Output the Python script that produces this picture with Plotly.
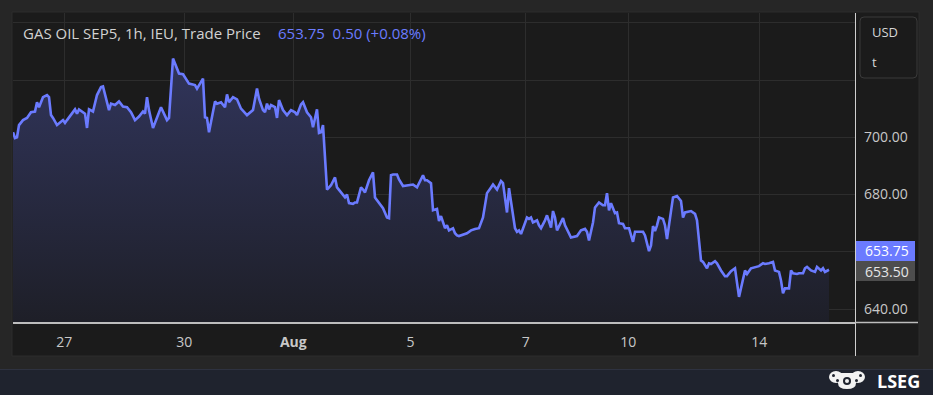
import plotly.graph_objects as go

# ---------------- data ----------------
bar_index = [
    0, 1, 2, 3, 5, 7, 9, 11, 12, 13,
    15, 17, 18, 19, 20, 22, 25, 26, 27, 31,
    32, 33, 36, 37, 38, 40, 42, 44, 45, 47,
    48, 49, 51, 53, 55, 57, 59, 61, 63, 65,
    66, 67, 68, 70, 72, 74, 77, 78, 80, 81,
    83, 85, 88, 91, 92, 95, 96, 97, 98, 101,
    102, 104, 106, 107, 108, 110, 112, 114, 117, 120,
    122, 123, 125, 126, 127, 128, 129, 131, 132, 133,
    135, 137, 139, 141, 142, 144, 145, 147, 149, 150,
    152, 153, 154, 155, 157, 159, 161, 162, 164, 166,
    167, 168, 170, 171, 172, 174, 175, 176, 178, 180,
    181, 183, 185, 187, 188, 189, 190, 192, 193, 195,
    197, 199, 200, 202, 205, 206, 207, 209, 210, 212,
    213, 214, 215, 216, 217, 218, 220, 221, 222, 223,
    227, 229, 231, 233, 235, 237, 239, 240, 242, 244,
    245, 247, 248, 249, 251, 252, 253, 254, 257, 258,
    259, 260, 262, 263, 264, 266, 267, 269, 270, 271,
    272, 275, 276, 279, 281, 282, 284, 286, 287, 288,
    290, 291, 293, 295, 296, 297, 298, 299, 301, 302,
    303, 305, 306, 308, 310, 311, 315, 316, 318, 319,
    320, 321, 322, 323, 325, 326, 327, 328, 330, 332,
    334, 335, 336, 339, 341, 342, 344, 345, 347, 348,
    349, 351, 352, 354, 356, 357, 359, 361, 363, 366,
    367, 369, 372, 373, 375, 376, 378, 380, 381, 383,
    384, 385, 386, 388, 389, 390, 392, 393, 395, 396,
    397, 399, 401, 402, 404, 405, 406, 408,
]

price = [
    701.75, 699.75, 700.00, 704.25, 706.00, 706.75, 708.75, 709.00, 712.25, 710.50,
    714.00, 714.75, 714.00, 707.75, 706.75, 704.25, 706.00, 705.00, 706.00, 709.75,
    708.25, 709.75, 708.25, 703.25, 709.75, 709.00, 714.75, 717.50, 717.75, 711.75,
    709.50, 711.75, 711.25, 712.50, 710.75, 710.50, 708.75, 706.00, 707.25, 709.00,
    708.25, 714.00, 709.50, 703.25, 707.00, 710.50, 706.00, 706.75, 727.50, 725.75,
    722.25, 722.00, 718.75, 718.25, 717.00, 720.50, 707.00, 706.75, 701.75, 712.50,
    711.75, 712.25, 710.50, 715.00, 712.25, 714.00, 713.25, 710.00, 707.75, 709.50,
    717.00, 713.50, 709.50, 708.75, 711.75, 709.75, 711.25, 710.50, 706.75, 713.00,
    709.50, 707.75, 709.50, 708.75, 707.75, 711.50, 712.25, 708.75, 707.00, 703.50,
    709.75, 701.50, 701.75, 704.25, 681.75, 683.25, 686.00, 682.50, 680.75, 679.00,
    680.00, 677.00, 676.75, 677.25, 677.25, 682.50, 681.75, 680.75, 685.00, 687.75,
    679.00, 677.25, 675.25, 672.00, 671.75, 686.75, 687.00, 687.00, 685.25, 683.00,
    683.25, 683.50, 683.50, 682.50, 686.75, 685.00, 685.00, 684.00, 674.50, 675.00,
    670.75, 672.50, 670.00, 668.25, 669.25, 667.50, 668.25, 666.50, 665.75, 665.50,
    666.50, 667.50, 668.00, 668.25, 672.00, 680.50, 682.50, 683.50, 681.75, 684.75,
    684.00, 673.75, 682.25, 677.00, 668.25, 667.00, 667.50, 666.25, 672.00, 671.50,
    672.00, 670.25, 671.00, 669.25, 668.25, 671.00, 672.75, 668.50, 674.25, 672.00,
    667.50, 671.75, 669.25, 665.00, 665.50, 665.50, 667.50, 668.00, 667.00, 664.00,
    670.25, 675.50, 677.25, 676.25, 676.25, 680.50, 674.50, 677.00, 673.50, 673.75,
    670.00, 669.75, 668.25, 668.25, 663.50, 667.00, 667.00, 665.75, 660.25, 662.25,
    669.00, 667.25, 669.25, 672.00, 671.50, 669.25, 664.50, 670.00, 679.00, 679.50,
    677.75, 672.00, 673.75, 674.25, 673.25, 671.00, 657.00, 656.50, 654.25, 656.00,
    655.75, 656.75, 656.00, 653.50, 651.50, 651.50, 653.25, 654.25, 644.25, 653.50,
    652.25, 654.25, 654.75, 655.00, 656.00, 655.75, 656.00, 656.50, 653.50, 653.00,
    650.00, 645.50, 647.25, 647.25, 653.50, 652.50, 652.25, 652.50, 652.50, 654.25,
    654.75, 653.50, 653.00, 654.75, 653.50, 654.25, 653.00, 653.75,
]
assert len(bar_index) == len(price)

x_tick_pos = [25.65, 85.65, 140.15, 198.75, 256.35, 307.65, 373.15]
x_tick_labels = ["27", "30", "<b>Aug</b>", "5", "7", "10", "14"]

y_tick_vals = [640, 660, 680, 700, 720, 740]
y_tick_labels = ["640.00", "", "680.00", "700.00", "", ""]

title_text = "GAS OIL SEP5, 1h, IEU, Trade Price"
last_price = "653.75"
change_text = "0.50 (+0.08%)"
bid_tag = "653.75"
ask_tag = "653.50"

# ---------------- figure ----------------
W, H = 933, 395
LINE = "#6b7bff"
FONT = "Open Sans"


def px(x):
    return x / W


def py(y):
    return 1 - y / H


fig = go.Figure()
fig.add_trace(go.Scatter(
    x=bar_index, y=price, mode="lines",
    line=dict(color=LINE, width=2.6),
    fill="tozeroy",
    fillgradient=dict(type="vertical", start=636, stop=728,
                      colorscale=[[0, "#1e1f28"], [1, "#31355c"]]),
    hoverinfo="skip", showlegend=False,
))


def circle(x0, y0, x1, y1, color):
    return dict(type="circle", xref="paper", yref="paper", x0=px(x0), x1=px(x1), y0=py(y1), y1=py(y0),
                fillcolor=color, line=dict(width=0))


shapes = [
    # chart panel
    dict(type="rect", xref="paper", yref="paper", x0=px(12), x1=px(919), y0=py(356), y1=py(12),
         fillcolor="#1b1b1b", line=dict(color="#2c2c2c", width=1), layer="below"),
    # bottom band
    dict(type="rect", xref="paper", yref="paper", x0=0, x1=1, y0=0, y1=py(369),
         fillcolor="#1f232e", line=dict(width=0), layer="below"),
    dict(type="line", xref="paper", yref="paper", x0=0, x1=1, y0=py(369.5), y1=py(369.5),
         line=dict(color="#2e3240", width=1)),
    # right divider
    dict(type="line", xref="paper", yref="paper", x0=px(855.5), x1=px(855.5), y0=py(356), y1=py(13),
         line=dict(color="#cfcfcf", width=1)),
    # x axis line extension
    dict(type="line", xref="paper", yref="paper", x0=px(855), x1=px(918), y0=py(322.5), y1=py(322.5),
         line=dict(color="#bdbdbd", width=1.5)),
    # USD box
    dict(type="path", xref="paper", yref="paper",
         path=(f"M {px(864)},{py(17)} L {px(913)},{py(17)} Q {px(917)},{py(17)} {px(917)},{py(21)} "
               f"L {px(917)},{py(74)} Q {px(917)},{py(78)} {px(913)},{py(78)} "
               f"L {px(864)},{py(78)} Q {px(860)},{py(78)} {px(860)},{py(74)} "
               f"L {px(860)},{py(21)} Q {px(860)},{py(17)} {px(864)},{py(17)} Z"),
         fillcolor="#1b1b1b", line=dict(color="#3a3a3a", width=1)),
    # price tags
    dict(type="rect", xref="paper", yref="paper", x0=px(856), x1=px(915), y0=py(261), y1=py(241),
         fillcolor="#6b7bff", line=dict(width=0)),
    dict(type="rect", xref="paper", yref="paper", x0=px(856), x1=px(915), y0=py(281), y1=py(261),
         fillcolor="#4d4d4d", line=dict(width=0)),
    # LSEG crest (approximation)
    circle(829, 371, 843, 383, "#f2f2f2"),
    circle(851, 371, 865, 383, "#f2f2f2"),
    dict(type="path", xref="paper", yref="paper",
         path=(f"M {px(838)},{py(373)} L {px(856)},{py(373)} L {px(856)},{py(383)} "
               f"Q {px(856)},{py(389)} {px(847)},{py(389)} Q {px(838)},{py(389)} {px(838)},{py(383)} Z"),
         fillcolor="#f2f2f2", line=dict(width=0)),
    circle(843, 377, 851, 385, "#1f232e"),
    circle(845, 379, 849, 383, "#f2f2f2"),
    circle(832, 374, 835, 377, "#1f232e"),
    circle(859, 374, 862, 377, "#1f232e"),
    circle(836, 379, 839, 382, "#1f232e"),
    circle(855, 379, 858, 382, "#1f232e"),
]

annotations = [
    dict(text=title_text, xref="paper", yref="paper", x=px(21), y=py(33), xanchor="left", yanchor="middle",
         showarrow=False, font=dict(family=FONT, size=15, color="#d2d2d2")),
    dict(text=last_price + "&nbsp;&nbsp;" + change_text, xref="paper", yref="paper", x=px(276), y=py(33),
         xanchor="left", yanchor="middle", showarrow=False, font=dict(family=FONT, size=15, color=LINE)),
    dict(text="USD", xref="paper", yref="paper", x=px(870), y=py(32), xanchor="left", yanchor="middle",
         showarrow=False, font=dict(family=FONT, size=13, color="#d6d6d6")),
    dict(text="t", xref="paper", yref="paper", x=px(870), y=py(62), xanchor="left", yanchor="middle",
         showarrow=False, font=dict(family=FONT, size=13, color="#d6d6d6")),
    dict(text=bid_tag, xref="paper", yref="paper", x=px(887), y=py(251), xanchor="center", yanchor="middle",
         showarrow=False, font=dict(family=FONT, size=14, color="#ffffff")),
    dict(text=ask_tag, xref="paper", yref="paper", x=px(887), y=py(271), xanchor="center", yanchor="middle",
         showarrow=False, font=dict(family=FONT, size=14, color="#e6e6e6")),
    dict(text="<b>LSEG</b>", xref="paper", yref="paper", x=px(922), y=py(381), xanchor="right", yanchor="middle",
         showarrow=False, font=dict(family=FONT, size=18, color="#ffffff")),
]

fig.update_layout(
    width=W, height=H,
    margin=dict(l=0, r=0, t=0, b=0),
    paper_bgcolor="#262626",
    plot_bgcolor="rgba(0,0,0,0)",
    font=dict(family=FONT, size=14, color="#c8c8c8"),
    shapes=shapes,
    annotations=annotations,
    xaxis=dict(
        domain=[px(13), px(855)], range=[0, 421],
        tickvals=x_tick_pos, ticktext=x_tick_labels,
        showgrid=True, gridcolor="#2d2d2d", gridwidth=1,
        showline=True, linecolor="#bdbdbd", linewidth=1.5,
        ticks="", ticklabelstandoff=6, zeroline=False,
        tickfont=dict(family=FONT, size=14, color="#c8c8c8"),
        fixedrange=True,
    ),
    yaxis=dict(
        domain=[py(322), py(13)], range=[635.5, 743.4], side="right",
        tickvals=y_tick_vals, ticktext=y_tick_labels,
        showgrid=True, gridcolor="#2d2d2d", gridwidth=1,
        showline=False, ticks="", ticklabelstandoff=8, zeroline=False,
        tickfont=dict(family=FONT, size=14, color="#c8c8c8"),
        fixedrange=True,
    ),
)

fig.write_html("out.html", config={"displayModeBar": False},
               post_script="document.body.style.margin='0';")
